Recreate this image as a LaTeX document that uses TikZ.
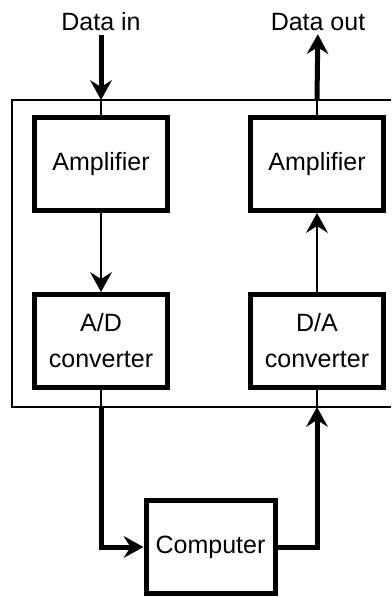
\documentclass[tikz,border=0pt]{standalone}
\usepackage{fontspec}
\setmainfont{Liberation Sans}
\usetikzlibrary{positioning,arrows.meta}

\begin{document}
\begin{tikzpicture}[x=1pt, y=-1pt, node distance=79pt and 78pt, every node/.style={font=\fontsize{25}{36}\selectfont}]
\tikzstyle{block}=[rectangle, draw=black, line width=5pt, minimum width=133pt, minimum height=93pt, align=center, inner sep=0pt]
\tikzstyle{thin}=[line width=1.7pt]
\tikzstyle{bus}=[line width=5pt]
\tikzstyle{arrowhead}=[-{Stealth[length=20pt, width=22pt, inset=7pt, line width=0pt]}]
\useasboundingbox (0,0) rectangle (391,597);
\node[block] (ampin) at (101,164) {Amplifier};
\node[block, right=of ampin] (ampout) {Amplifier};
\node[block, below=of ampin] (adc) {A/D\\converter};
\node[block, below=of ampout] (dac) {D/A\\converter};
\node[block, minimum width=129pt] (computer) at (210.5,547) {Computer};
\node (datain) at (101,22) {Data in};
\node (dataout) at (318,22) {Data out};
% frame round the analogue side
\coordinate (frametop) at (0,100);
\coordinate (framebot) at (0,407);
\draw[thin] (391,100) -| (12,407) -- (391,407);
\draw[bus, arrowhead] (datain) -- (ampin.north |- frametop);
\draw[thin] (ampin.north |- frametop) -- (ampin);
\draw[thin, arrowhead] (ampin) -- (adc);
\draw[thin] (adc) -- (adc.south |- framebot);
\draw[bus, arrowhead] (adc.south |- framebot) |- (computer);
\draw[bus, arrowhead] (computer) -| (dac.south |- framebot);
\draw[thin] (dac.south |- framebot) -- (dac);
\draw[thin, arrowhead] (dac) -- (ampout);
\draw[thin] (ampout) -- (ampout.north |- frametop);
\draw[bus, arrowhead] (ampout.north |- frametop) -- (dataout);
\end{tikzpicture}
\end{document}
